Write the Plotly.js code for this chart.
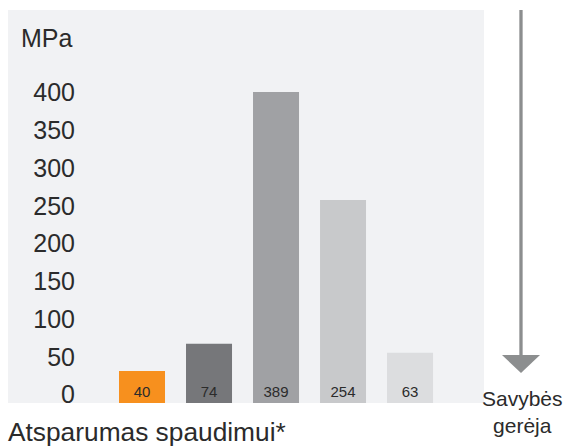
<!DOCTYPE html>
<html>
<head>
<meta charset="utf-8">
<script src="https://cdn.plot.ly/plotly-3.0.1.min.js"></script>
<style>html,body{margin:0;padding:0;background:#fff;}#chart{width:567px;height:447px;}</style>
</head>
<body>
<div id="chart"></div>
<script>
const categories = ['1', '2', '3', '4', '5'];
const values = [40, 74, 389, 254, 63];
const barColors = ['#f7901e', '#76777a', '#a0a1a4', '#c8c9cb', '#dcdddf'];
const tickValues = [0, 50, 100, 150, 200, 250, 300, 350, 400];
const tickLabels = ['0', '50', '100', '150', '200', '250', '300', '350', '400'];
const unitLabel = 'MPa';
const chartTitle = 'Atsparumas spaudimui*';
const arrowLabel = 'Savybės<br>gerėja';

const FONT = 'Liberation Sans, Arial, Helvetica, sans-serif';
const TEXT = '#2b2b2b';

const trace = {
  type: 'bar',
  x: categories,
  y: values,
  text: values.map(String),
  textposition: 'inside',
  insidetextanchor: 'start',
  textangle: 0,
  constraintext: 'none',
  textfont: {family: FONT, size: 15, color: TEXT},
  marker: {color: barColors, line: {width: 0}},
  hoverinfo: 'none',
  showlegend: false
};

// invisible trace to carry the decorative scale axis
const scaleTrace = {
  type: 'scatter', x: [categories[0]], y: [0], yaxis: 'y2',
  mode: 'markers', marker: {opacity: 0}, hoverinfo: 'none', showlegend: false
};

const layout = {
  width: 567, height: 447,
  margin: {l: 8, r: 83, t: 10, b: 44, pad: 0},
  paper_bgcolor: '#ffffff',
  plot_bgcolor: '#f1f2f4',
  bargap: 0.3134,
  font: {family: FONT, color: TEXT},
  xaxis: {
    type: 'category', range: [-2, 5.104], showticklabels: false,
    showgrid: false, zeroline: false, showline: false, ticks: '', fixedrange: true
  },
  yaxis: {
    range: [0, 491.6], showticklabels: false, showgrid: false,
    zeroline: false, showline: false, ticks: '', fixedrange: true
  },
  yaxis2: {
    overlaying: 'y', anchor: 'free', position: 0.1408, side: 'left',
    range: [-11.26, 509.27], tickmode: 'array', tickvals: tickValues, ticktext: tickLabels,
    showgrid: false, zeroline: false, showline: false, ticks: '',
    ticklabelstandoff: 0,
    tickfont: {family: FONT, size: 25, color: TEXT}, fixedrange: true
  },
  shapes: [
    {type: 'line', xref: 'paper', yref: 'paper', x0: 1.0777, x1: 1.0777, y0: 1.0, y1: 0.115,
     line: {color: '#8c8e8f', width: 3.3}},
    {type: 'path', xref: 'paper', yref: 'paper',
     path: 'M 1.0378 0.1221 L 1.1176 0.1221 L 1.0777 0.0763 Z',
     fillcolor: '#8c8e8f', line: {width: 0}}
  ],
  annotations: [
    {text: unitLabel, xref: 'paper', yref: 'paper', x: 0.0231, y: 0.930,
     xanchor: 'left', yanchor: 'middle', showarrow: false,
     font: {family: FONT, size: 25, color: TEXT}},
    {text: chartTitle, xref: 'paper', yref: 'paper', x: -0.004, y: -0.0738,
     xanchor: 'left', yanchor: 'middle', showarrow: false,
     font: {family: FONT, size: 26.3, color: TEXT}},
    {text: arrowLabel, xref: 'paper', yref: 'paper', x: 1.0819, y: -0.022,
     xanchor: 'center', yanchor: 'middle', align: 'center', showarrow: false,
     font: {family: FONT, size: 21, color: TEXT}}
  ]
};

Plotly.newPlot('chart', [trace, scaleTrace], layout, {displayModeBar: false, staticPlot: true});
</script>
</body>
</html>
